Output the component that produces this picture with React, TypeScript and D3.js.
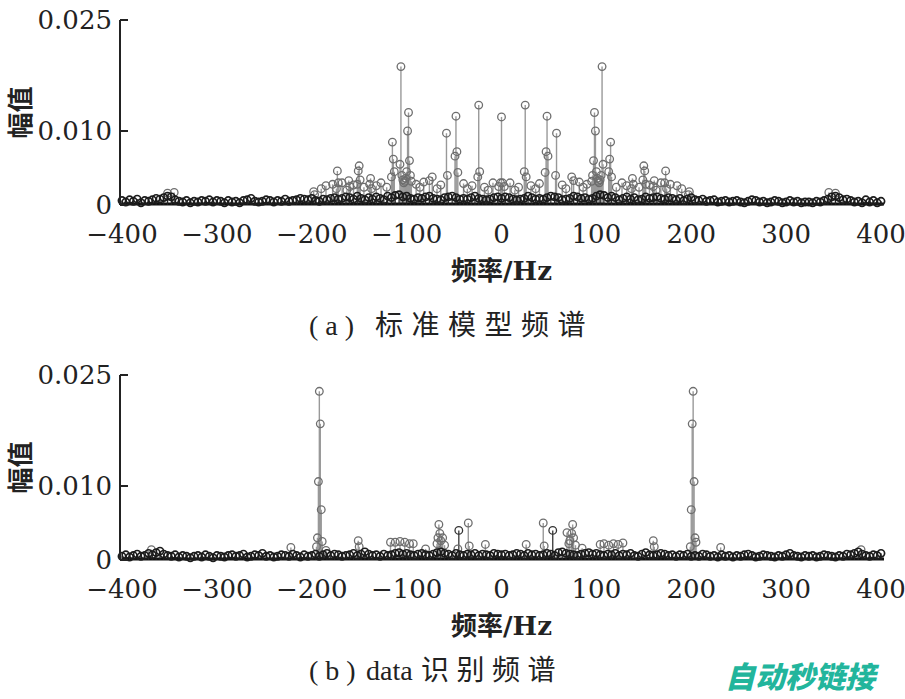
import React from "react";
import * as d3 from "d3";

const freqTicks = [-400, -300, -200, -100, 0, 100, 200, 300, 400];
const ampTicks = [0, 0.01, 0.025];
const ampTickLabels = ["0", "0.010", "0.025"];

// noise floor, one value every 4 Hz from -400 Hz to 400 Hz, in units of 1e-4
const FLOOR_STEP = 4;
const floorA = [
  6, 4, 7, 5, 8, 3, 6, 5, 7, 9,
  8, 10, 12, 11, 7, 5, 4, 6, 3, 5,
  4, 6, 5, 7, 4, 6, 5, 3, 6, 4,
  5, 3, 6, 7, 9, 5, 4, 5, 7, 6,
  4, 6, 5, 8, 5, 6, 7, 9, 8, 7,
  9, 6, 5, 8, 7, 9, 10, 8, 9, 11,
  10, 8, 12, 9, 7, 10, 8, 11, 9, 7,
  12, 10, 13, 14, 11, 12, 9, 8, 10, 9,
  11, 12, 9, 8, 7, 10, 11, 12, 10, 8,
  9, 8, 10, 12, 9, 8, 7, 8, 10, 11,
  9,
  11, 10, 8, 7, 8, 9, 12, 10, 8, 9,
  8, 10, 12, 11, 10, 7, 8, 9, 12, 11,
  9, 10, 8, 9, 12, 14, 13, 10, 12, 10,
  7, 9, 11, 8, 10, 7, 8, 11, 9, 10,
  11, 9, 8, 10, 9, 7, 9, 6, 8, 10,
  7, 6, 8, 5, 6, 7, 4, 5, 6, 4,
  5, 6, 4, 3, 5, 7, 6, 4, 5, 3,
  4, 6, 5, 3, 4, 6, 4, 5, 3, 4,
  4, 3, 5, 4, 6, 8, 11, 12, 10, 7,
  8, 6, 4, 5, 3, 7, 4, 6, 3, 5,
];

// [frequency Hz, amplitude x1e-4]
const partsA: [number, number][] = [
  [-352, 16], [-345, 17], [-198, 18], [-197, 14], [-190, 22], [-185, 26], [-178, 28],
  [-174, 22], [-173, 46], [-172, 30], [-168, 30], [-163, 20], [-161, 33], [-160, 25],
  [-156, 27], [-152, 28], [-151, 46], [-150, 53], [-149, 34], [-145, 24], [-139, 28],
  [-138, 36], [-137, 22], [-132, 26], [-127, 30], [-121, 24], [-116, 38], [-115, 85],
  [-114, 62], [-113, 45], [-107, 55], [-106, 187], [-105, 40], [-104, 34], [-103, 30],
  [-102, 32], [-101, 36], [-100, 45], [-99, 100], [-98, 125], [-97, 60], [-96, 40],
  [-95, 32], [-90, 28], [-86, 24], [-82, 31], [-76, 33], [-73, 38], [-68, 22],
  [-64, 27], [-58, 97], [-57, 40], [-49, 66], [-48, 120], [-47, 72], [-46, 44],
  [-40, 29], [-36, 22], [-31, 26], [-25, 38], [-24, 135], [-23, 45], [-18, 24],
  [-14, 20], [-9, 30], [-3, 25], [-1, 30], [0, 119], [1, 30], [3, 25], [9, 30],
  [14, 20], [18, 24], [24, 45], [25, 135], [26, 38], [31, 26], [36, 22], [40, 29],
  [46, 44], [47, 72], [48, 120], [49, 66], [57, 40], [58, 97], [64, 27], [68, 22],
  [74, 38], [76, 33], [82, 31], [86, 24], [90, 28], [95, 32], [96, 40], [97, 60],
  [98, 125], [99, 100], [100, 45], [101, 36], [102, 32], [103, 30], [104, 34],
  [105, 40], [106, 187], [107, 55], [113, 45], [114, 62], [115, 85], [116, 38],
  [121, 24], [127, 30], [132, 26], [137, 22], [138, 36], [139, 28], [145, 24],
  [149, 34], [150, 53], [151, 46], [152, 28], [156, 27], [160, 25], [161, 33],
  [163, 20], [168, 30], [172, 30], [173, 46], [174, 22], [178, 28], [185, 26],
  [190, 22], [197, 14], [198, 18], [345, 17], [352, 16],
];

const floorB = [
  5, 7, 4, 6, 8, 5, 6, 9, 7, 10,
  12, 8, 6, 5, 7, 4, 6, 5, 3, 5,
  6, 4, 7, 5, 3, 6, 5, 4, 6, 7,
  5, 6, 8, 4, 5, 7, 6, 9, 5, 6,
  4, 5, 7, 6, 5, 8, 6, 4, 7, 5,
  6, 8, 5, 7, 9, 6, 8, 7, 5, 6,
  7, 9, 6, 8, 11, 8, 6, 7, 5, 8,
  6, 7, 9, 10, 8, 9, 7, 6, 8, 9,
  7, 6, 8, 10, 11, 9, 8, 6, 9, 7,
  6, 8, 7, 9, 6, 8, 7, 6, 9, 8,
  7,
  8, 6, 7, 9, 8, 6, 9, 7, 8, 6,
  7, 9, 8, 6, 10, 11, 9, 8, 7, 6,
  8, 9, 10, 8, 9, 7, 6, 8, 7, 9,
  6, 8, 7, 9, 6, 5, 8, 10, 7, 6,
  7, 9, 8, 6, 7, 5, 7, 6, 8, 5,
  6, 5, 8, 7, 5, 6, 4, 7, 5, 6,
  4, 6, 5, 7, 8, 6, 4, 5, 7, 6,
  5, 4, 6, 5, 7, 9, 6, 5, 4, 6,
  5, 6, 4, 5, 7, 6, 5, 4, 6, 5,
  8, 7, 9, 11, 8, 6, 5, 7, 6, 9,
];

const partsB: [number, number][] = [
  [-369, 14], [-222, 17], [-195, 18], [-194, 30], [-193, 106], [-192, 228],
  [-191, 184], [-190, 68], [-189, 25], [-185, 13], [-151, 26], [-150, 18],
  [-117, 24], [-112, 24], [-107, 25], [-102, 24], [-97, 22], [-93, 22], [-80, 15],
  [-68, 22], [-67, 30], [-66, 48], [-65, 36], [-64, 26], [-62, 30], [-60, 20],
  [-46, 15], [-45, 40], [-35, 50], [-34, 19], [-17, 21], [26, 21], [44, 50],
  [45, 19], [54, 40], [69, 37], [71, 22], [72, 26], [74, 36], [75, 48], [76, 30],
  [78, 20], [85, 16], [104, 21], [108, 22], [113, 20], [118, 22], [123, 21],
  [128, 23], [160, 26], [161, 18], [199, 18], [200, 68], [201, 184], [202, 228],
  [203, 106], [204, 30], [205, 24], [231, 17], [379, 14],
];
const darkB = [-45, 54];

const SERIF = "'DejaVu Serif', serif";
const TIMES = "'Liberation Serif', serif";
const CJK = "'Noto Sans CJK SC', sans-serif";

function Panel({
  floor,
  parts,
  dark = [],
  top,
}: {
  floor: number[];
  parts: [number, number][];
  dark?: number[];
  top: number;
}) {
  const x = d3.scaleLinear().domain([-400, 400]).range([122, 881]);
  const y = d3.scaleLinear().domain([0, 0.025]).range([top + 185, top]);
  const y0 = y(0);
  const floorPts = floor.map((v, i) => ({ f: -400 + i * FLOOR_STEP, a: v * 1e-4 }));
  const partPts = parts.map(([f, v]) => ({ f, a: v * 1e-4, dark: dark.includes(f) }));

  return (
    <g>
      {/* spectral components */}
      {partPts.map((p, i) => (
        <line
          key={`ps${i}`}
          x1={x(p.f)}
          x2={x(p.f)}
          y1={y0}
          y2={y(p.a)}
          stroke={p.dark ? "#444" : "#999"}
          strokeWidth={1.4}
        />
      ))}
      {partPts.map((p, i) => (
        <circle
          key={`pc${i}`}
          cx={x(p.f)}
          cy={y(p.a)}
          r={3.8}
          fill="none"
          stroke={p.dark ? "#333" : "#6e6e6e"}
          strokeWidth={1.3}
        />
      ))}

      {/* baseline */}
      <line x1={x(-400)} x2={x(400) + 3} y1={y0 - 1} y2={y0 - 1} stroke="#111" strokeWidth={3} />

      {/* noise floor stems + markers */}
      {floorPts.map((p, i) => (
        <line key={`fs${i}`} x1={x(p.f)} x2={x(p.f)} y1={y0} y2={y(p.a)} stroke="#222" strokeWidth={1.2} />
      ))}
      {floorPts.map((p, i) => (
        <circle key={`fc${i}`} cx={x(p.f)} cy={y(p.a)} r={3.6} fill="none" stroke="#1c1c1c" strokeWidth={1.7} />
      ))}

      {/* y axis */}
      <line x1={120} x2={120} y1={y(0.025)} y2={y0} stroke="#222" strokeWidth={2} />
      {ampTicks.map((t, i) => (
        <g key={`yt${t}`}>
          <line x1={120} x2={128} y1={y(t)} y2={y(t)} stroke="#222" strokeWidth={2} />
          <text
            x={112}
            y={y(t)}
            dy="0.36em"
            textAnchor="end"
            fontFamily={SERIF}
            fontSize={26}
            fill="#222"
          >
            {ampTickLabels[i]}
          </text>
        </g>
      ))}
      <text
        transform={`translate(30,${(y(0.025) + y0) / 2}) rotate(-90)`}
        textAnchor="middle"
        fontFamily={CJK}
        fontWeight={600}
        fontSize={26}
        fill="#222"
      >
        幅值
      </text>

      {/* x tick labels */}
      {freqTicks.map((t) => (
        <text
          key={`xt${t}`}
          x={x(t)}
          y={y0 + 38}
          textAnchor="middle"
          fontFamily={SERIF}
          fontSize={26}
          fill="#222"
        >
          {t < 0 ? `\u2212${-t}` : t}
        </text>
      ))}
      <text x={x(0)} y={y0 + 75} textAnchor="middle" fontSize={26} fill="#222" fontWeight={700}>
        <tspan fontFamily={CJK}>频率</tspan>
        <tspan fontFamily={SERIF}>/Hz</tspan>
      </text>
    </g>
  );
}

export default function App() {
  return (
    <svg
      width={905}
      height={699}
      style={{ position: "absolute", left: 0, top: 0, background: "#fff" }}
    >
      <Panel floor={floorA} parts={partsA} top={20} />
      <Panel floor={floorB} parts={partsB} dark={darkB} top={375} />

      <text y={335} fontSize={28} fill="#222">
        <tspan x={309} fontFamily={TIMES} letterSpacing={7}>(a)</tspan>
        <tspan x={375} fontFamily={CJK} letterSpacing={8.5}>标准模型频谱</tspan>
      </text>
      <text y={680} fontSize={28} fill="#222">
        <tspan x={309} fontFamily={TIMES} letterSpacing={7}>(b)</tspan>
        <tspan x={366} fontFamily={TIMES}>data</tspan>
        <tspan x={421} fontFamily={CJK} letterSpacing={7.5}>识别频谱</tspan>
      </text>

      <text
        x={725}
        y={688}
        fontFamily={CJK}
        fontWeight={900}
        fontStyle="italic"
        fontSize={30}
        fill="#22b59c"
      >
        自动秒链接
      </text>
    </svg>
  );
}
